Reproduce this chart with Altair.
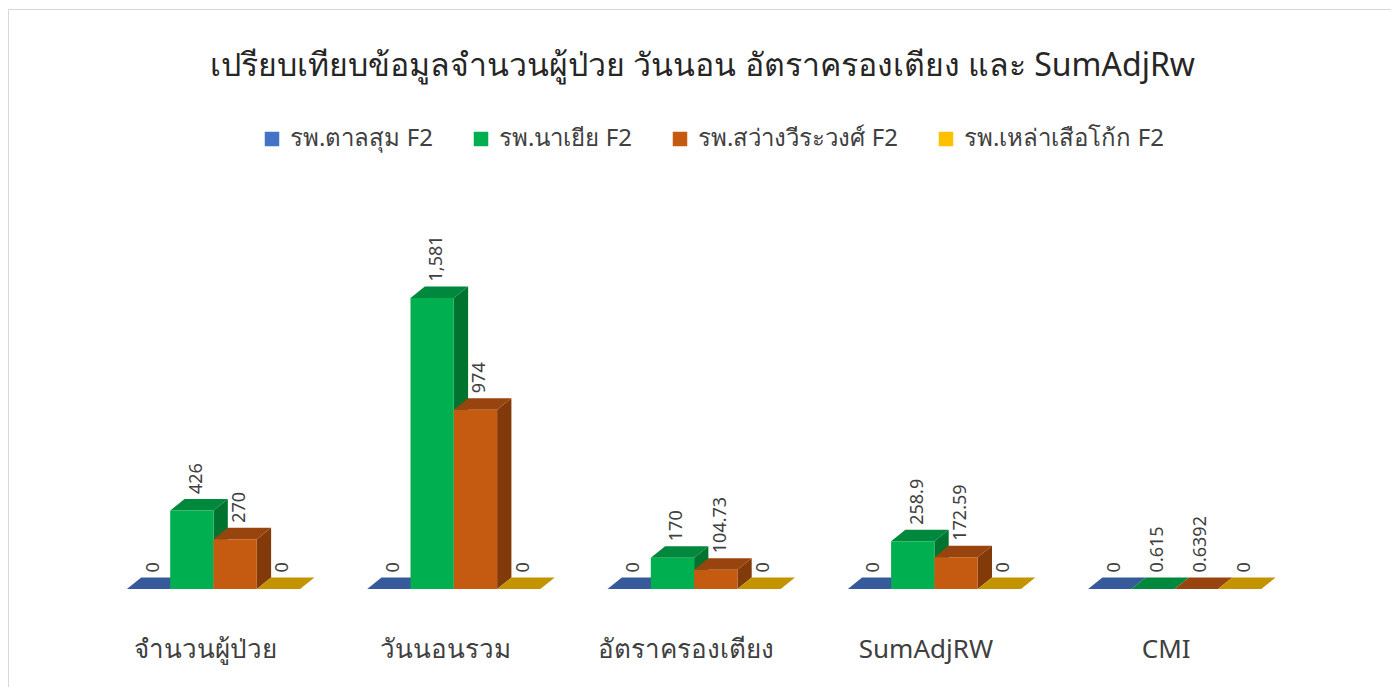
import altair as alt
import pandas as pd

categories = ["จำนวนผู้ป่วย", "วันนอนรวม", "อัตราครองเตียง", "SumAdjRW", "CMI"]
series = ["รพ.ตาลสุม F2", "รพ.นาเยีย F2", "รพ.สว่างวีระวงศ์ F2", "รพ.เหล่าเสือโก้ก F2"]
val_talsum = [0, 0, 0, 0, 0]
val_nayia = [426, 1581, 170, 258.9, 0.615]
val_sawang = [270, 974, 104.73, 172.59, 0.6392]
val_laosuea = [0, 0, 0, 0, 0]
values = [val_talsum, val_nayia, val_sawang, val_laosuea]

front_colors = ["#4472C4", "#00B050", "#C55A11", "#FFC000"]
top_colors = ["#365A9A", "#00883D", "#97440E", "#C49300"]
side_colors = ["#2F4E87", "#00732F", "#823A0B", "#A67C00"]

FONT = "Noto Sans"
W = 0.1802          # bar width in group units
DX = 0.0595         # depth offset in group units
DY = 62.5           # depth offset in value units
YMAX = 2113
XDOM = [-0.8885, 4.9001]

front_rows, side_rows, top_rows, label_rows = [], [], [], []
for k, s in enumerate(series):
    for i, c in enumerate(categories):
        v = values[k][i]
        xl = i + (k - 2) * W
        xr = xl + W
        bid = f"{k}-{i}"
        front_rows.append(dict(series=s, x=xl, x2=xr, y=0, y2=v))
        side_rows += [dict(bid=bid, col=side_colors[k], xs=xr, lo=0, hi=v),
                      dict(bid=bid, col=side_colors[k], xs=xr + DX, lo=DY, hi=v + DY)]
        top_rows += [dict(bid=bid, col=top_colors[k], yt=v, xa=xl, xb=xr),
                     dict(bid=bid, col=top_colors[k], yt=v + DY, xa=xl + DX, xb=xr + DX)]
        label_rows.append(dict(xl=xl + W / 2 + DX * 0.35, yl=v + DY, txt=f"{v:,}"))

front = pd.DataFrame(front_rows)
side = pd.DataFrame(side_rows)
top = pd.DataFrame(top_rows)
labels = pd.DataFrame(label_rows)

xs = alt.Scale(domain=XDOM, nice=False, zero=False)
ys = alt.Scale(domain=[0, YMAX], nice=False)

label_expr = "[" + ",".join(f"'{c}'" for c in categories) + "][datum.value]"

side_layer = alt.Chart(side).mark_area(orient="vertical").encode(
    x=alt.X("xs:Q", scale=xs, axis=alt.Axis(values=[0, 1, 2, 3, 4], labelExpr=label_expr,
                                           title=None, domain=False, ticks=False, grid=False,
                                           labelFontSize=26, labelFont=FONT, labelColor="#404040",
                                           labelPadding=47, labelOffset=-9)),
    y=alt.Y("lo:Q", scale=ys, axis=None),
    y2="hi:Q",
    detail="bid:N",
    fill=alt.Fill("col:N", scale=None),
)

top_layer = alt.Chart(top).mark_area(orient="horizontal").encode(
    y=alt.Y("yt:Q", scale=ys),
    x=alt.X("xa:Q", scale=xs),
    x2="xb:Q",
    detail="bid:N",
    fill=alt.Fill("col:N", scale=None),
)

front_layer = alt.Chart(front).mark_rect().encode(
    x=alt.X("x:Q", scale=xs),
    x2="x2:Q",
    y=alt.Y("y:Q", scale=ys),
    y2="y2:Q",
    color=alt.Color("series:N", scale=alt.Scale(domain=series, range=front_colors),
                    legend=alt.Legend(title=None, orient="none", direction="horizontal",
                                      legendX=260, legendY=-73, symbolType="square",
                                      symbolSize=210, symbolStrokeWidth=0,
                                      labelFontSize=24, labelFont=FONT, labelColor="#404040",
                                      labelLimit=400, columnPadding=36, labelOffset=6, columns=4)),
)

label_layer = alt.Chart(labels).mark_text(angle=270, align="left", baseline="middle",
                                          dx=5, fontSize=18, font=FONT, color="#404040").encode(
    x=alt.X("xl:Q", scale=xs),
    y=alt.Y("yl:Q", scale=ys),
    text="txt:N",
)

border_top = alt.Chart(pd.DataFrame({"a": [0]})).mark_rule(color="#D9D9D9", strokeWidth=1).encode(
    x=alt.value(8), x2=alt.value(1391), y=alt.value(-190.5))
border_left = alt.Chart(pd.DataFrame({"a": [0]})).mark_rule(color="#D9D9D9", strokeWidth=1).encode(
    x=alt.value(8.5), y=alt.value(-191), y2=alt.value(487))

chart = alt.layer(border_top, border_left, side_layer, top_layer, front_layer, label_layer).properties(
    width=1391, height=389,
    title=alt.TitleParams("เปรียบเทียบข้อมูลจำนวนผู้ป่วย วันนอน อัตราครองเตียง และ SumAdjRw",
                          fontSize=32, font=FONT, fontWeight="normal", color="#262626",
                          anchor="middle", offset=0, dx=7, dy=74),
    padding={"left": 0, "top": 200, "right": 0, "bottom": 98},
    autosize=alt.AutoSizeParams(type="none"),
    background="white",
).configure_view(strokeWidth=0, stroke="transparent")

chart.save("out.html", embed_options={"renderer": "svg", "actions": False})
